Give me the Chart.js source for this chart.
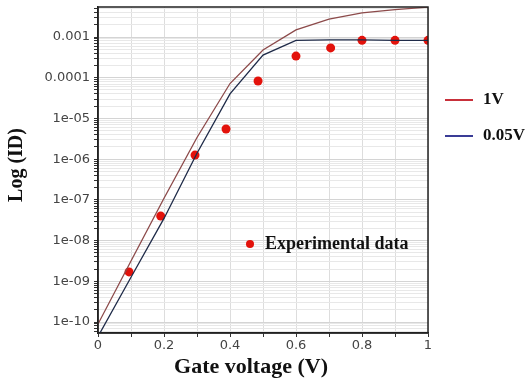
<!DOCTYPE html>
<html>
<head>
<meta charset="utf-8">
<script src="https://cdn.jsdelivr.net/npm/chart.js@4.4.1/dist/chart.umd.min.js"></script>
<style>
  html, body { margin: 0; padding: 0; background: #ffffff; }
  #wrap { width: 529px; height: 382px; position: relative; }
</style>
</head>
<body>
<div id="wrap"><canvas id="c"></canvas></div>
<script>
// ---- data ----
const gateVoltage = [0, 0.1, 0.2, 0.3, 0.4, 0.5, 0.6, 0.7, 0.8, 0.9, 1.0];
const current1V   = [8.9e-11, 3.16e-9, 1.1e-7, 3.4e-6, 7.2e-5, 4.8e-4, 1.5e-3, 2.75e-3, 3.9e-3, 4.7e-3, 5.4e-3];
const current005V = [4.4e-11, 1.26e-9, 3.5e-8, 1.4e-6, 4.0e-5, 3.6e-4, 8.3e-4, 8.5e-4, 8.5e-4, 8.3e-4, 8.3e-4];
const expVoltage  = [0.094, 0.19, 0.294, 0.388, 0.485, 0.6, 0.705, 0.8, 0.9, 1.0];
const expCurrent  = [1.7e-9, 4.0e-8, 1.26e-6, 5.5e-6, 8.3e-5, 3.4e-4, 5.4e-4, 8.3e-4, 8.3e-4, 8.3e-4];
const seriesNames = ['1V', '0.05V', 'Experimental data'];
const xTickLabels = ['0', '0.2', '0.4', '0.6', '0.8', '1'];
const yTickValues = [1e-10, 1e-9, 1e-8, 1e-7, 1e-6, 1e-5, 1e-4, 1e-3];
const yTickLabels = ['1e-10', '1e-09', '1e-08', '1e-07', '1e-06', '1e-05', '0.0001', '0.001'];
const xAxisTitle = 'Gate voltage (V)';
const yAxisTitle = 'Log (ID)';

const toPts = (xs, ys) => xs.map((x, i) => ({ x: x, y: ys[i] }));
const isDecade = v => Math.abs(Math.log10(v) - Math.round(Math.log10(v))) < 1e-6;

const decorPlugin = {
  id: 'decor',
  afterDraw(chart) {
    const ctx = chart.ctx;
    const ca = chart.chartArea;
    const ds = chart.data.datasets;
    ctx.save();
    // frame top/right
    ctx.strokeStyle = '#222';
    ctx.lineWidth = 1.5;
    ctx.strokeRect(ca.left, ca.top, ca.right - ca.left, ca.bottom - ca.top);

    // axis titles
    ctx.fillStyle = '#111';
    ctx.textBaseline = 'middle';
    ctx.textAlign = 'center';
    ctx.font = 'bold 22px "Liberation Serif", "Times New Roman", serif';
    ctx.fillText(xAxisTitle, 251, 367);
    ctx.save();
    ctx.translate(17, 165);
    ctx.rotate(-Math.PI / 2);
    ctx.font = 'bold 20px "Liberation Serif", "Times New Roman", serif';
    ctx.fillText(yAxisTitle, 0, 0);
    ctx.restore();

    // right legend
    ctx.textAlign = 'left';
    ctx.font = 'bold 17px "Liberation Serif", "Times New Roman", serif';
    const legendRows = [
      { color: '#c8303a', label: ds[0].label, y: 100 },
      { color: '#3a3c96', label: ds[1].label, y: 136 }
    ];
    legendRows.forEach(r => {
      ctx.strokeStyle = r.color;
      ctx.lineWidth = 2;
      ctx.beginPath();
      ctx.moveTo(445, r.y);
      ctx.lineTo(473, r.y);
      ctx.stroke();
      ctx.fillStyle = '#111';
      ctx.fillText(r.label, 483, r.y);
    });

    // experimental data legend
    ctx.fillStyle = ds[2].backgroundColor;
    ctx.beginPath();
    ctx.arc(250, 244, 4, 0, Math.PI * 2);
    ctx.fill();
    ctx.fillStyle = '#111';
    ctx.font = 'bold 18px "Liberation Serif", "Times New Roman", serif';
    ctx.fillText(ds[2].label, 265, 244);
    ctx.restore();
  }
};

new Chart(document.getElementById('c'), {
  type: 'line',
  data: {
    datasets: [
      {
        label: seriesNames[0],
        data: toPts(gateVoltage, current1V),
        borderColor: '#8c4a4a',
        backgroundColor: '#8c4a4a',
        borderWidth: 1.3,
        pointRadius: 0,
        tension: 0
      },
      {
        label: seriesNames[1],
        data: toPts(gateVoltage, current005V),
        borderColor: '#1e2a48',
        backgroundColor: '#1e2a48',
        borderWidth: 1.3,
        pointRadius: 0,
        tension: 0
      },
      {
        label: seriesNames[2],
        data: toPts(expVoltage, expCurrent),
        showLine: false,
        borderColor: '#e3120b',
        backgroundColor: '#e3120b',
        pointBackgroundColor: '#e3120b',
        pointBorderWidth: 0,
        pointRadius: 4.5
      }
    ]
  },
  options: {
    responsive: true,
    maintainAspectRatio: false,
    animation: false,
    layout: { padding: { top: 7, right: 101, bottom: 0, left: 0 } },
    plugins: { legend: { display: false }, tooltip: { enabled: false } },
    scales: {
      x: {
        type: 'linear',
        min: 0,
        max: 1,
        afterFit(scale) { scale.height = 49; scale.paddingLeft = 0; scale.paddingRight = 0; },
        ticks: {
          stepSize: 0.1,
          autoSkip: false,
          maxRotation: 0,
          padding: 1,
          color: '#444',
          font: { family: '"DejaVu Sans", sans-serif', size: 13 },
          callback: (v, i) => (i % 2 === 0 ? xTickLabels[i / 2] : '')
        },
        grid: { color: '#dddddd', lineWidth: 1, tickLength: 4, tickColor: '#333' },
        border: { color: '#222', width: 1.5 }
      },
      y: {
        type: 'logarithmic',
        min: 5.37e-11,
        max: 5.46e-3,
        afterFit(scale) { scale.width = 98; scale.paddingTop = 0; scale.paddingBottom = 0; },
        afterBuildTicks(scale) {
          const t = [];
          yTickValues.concat([1e-11]).forEach(d => {
            for (let m = 1; m <= 9; m++) {
              const v = d * m;
              if (v >= scale.min && v <= scale.max) t.push({ value: v });
            }
          });
          t.sort((a, b) => a.value - b.value);
          scale.ticks = t;
        },
        ticks: {
          autoSkip: false,
          padding: 4,
          color: '#444',
          font: { family: '"DejaVu Sans", sans-serif', size: 13 },
          callback: (v) => {
            const i = yTickValues.findIndex(d => Math.abs(Math.log10(d) - Math.log10(v)) < 1e-6);
            return i >= 0 ? yTickLabels[i] : '';
          }
        },
        grid: {
          color: (c) => (c.tick && isDecade(c.tick.value) ? '#d4d4d4' : '#e8e8e8'),
          lineWidth: 1,
          tickLength: 4,
          tickColor: '#333'
        },
        border: { color: '#222', width: 1.5 }
      }
    }
  },
  plugins: [decorPlugin]
});
</script>
</body>
</html>
